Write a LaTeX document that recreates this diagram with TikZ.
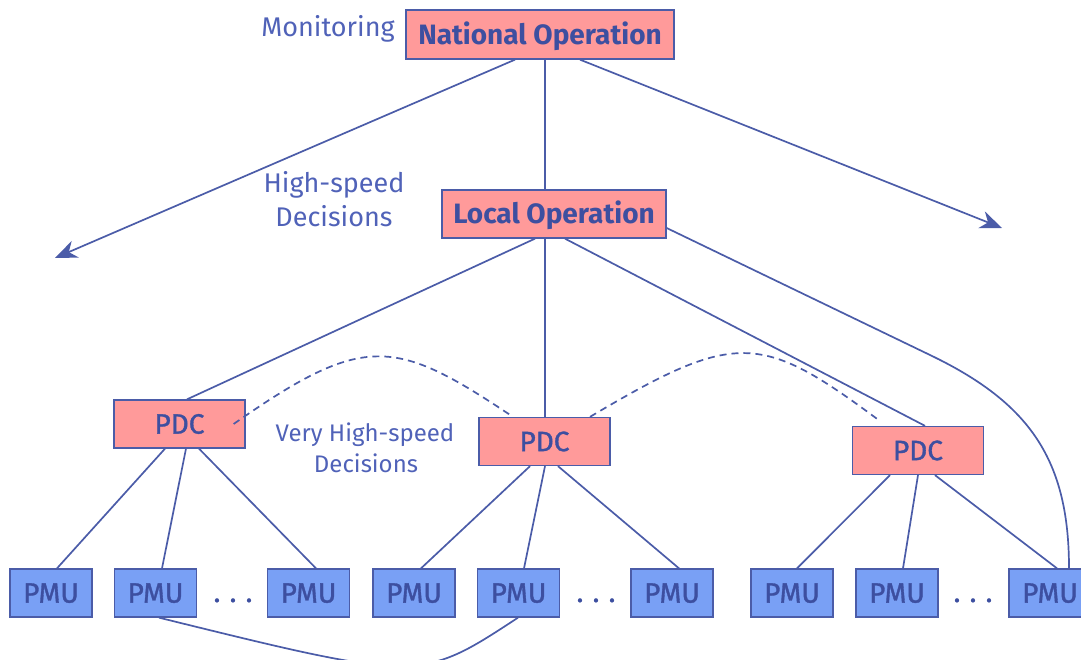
\documentclass[tikz,border=0pt]{standalone}
\usepackage{fontspec}
\setmainfont{Fira Sans}
\newfontfamily\boxfont{Fira Sans}[FakeBold=1.2]
\usetikzlibrary{arrows.meta}
\definecolor{linec}{HTML}{4B5CA8}
\definecolor{textc}{HTML}{3D4FA0}
\definecolor{labc}{HTML}{5062B8}
\definecolor{pdcfill}{HTML}{FF9A9A}
\definecolor{pmufill}{HTML}{79A0F5}
\begin{document}
\begin{tikzpicture}[x=1pt,y=-1pt,
  box/.style={draw=linec, line width=1.3pt, inner sep=0pt, text=textc,
    font=\boxfont\fontsize{28}{32}\selectfont, text height=19.3pt, text depth=0pt},
  bigbox/.style={box, fill=pdcfill, font=\fontsize{28}{32}\selectfont\bfseries},
  pdcbox/.style={box, fill=pdcfill, minimum width=131pt, minimum height=48pt},
  pmubox/.style={box, fill=pmufill, minimum width=82pt, minimum height=48pt},
  conn/.style={draw=linec, line width=1.7pt},
  dashconn/.style={conn, dash pattern=on 7pt off 5pt},
  arr/.style={conn, -{Stealth[length=22pt,width=18pt,inset=7pt]}},
  lab/.style={text=labc, font=\fontsize{27}{32}\selectfont, inner sep=0pt, anchor=base},
  smalllab/.style={lab, font=\fontsize{24}{28}\selectfont},
  dotsnode/.style={text=textc, font=\boxfont\fontsize{28}{32}\selectfont, inner sep=0pt, anchor=base}
]
\useasboundingbox (0,0) rectangle (1081,660);

% boxes
\node[bigbox, minimum width=268pt, minimum height=49pt] (nat) at (540,34.5) {National Operation};
\node[bigbox, minimum width=224pt, minimum height=48pt] (loc) at (554,214) {Local Operation};
\node[pdcbox] (pdc1) at (179.5,424) {PDC};
\node[pdcbox] (pdc2) at (544.5,441.5) {PDC};
\node[pdcbox] (pdc3) at (918,450.5) {PDC};
\node[pmubox] (pmu1) at (51,593) {PMU};
\node[pmubox] (pmu2) at (155.5,593) {PMU};
\node[pmubox] (pmu3) at (308.5,593) {PMU};
\node[pmubox] (pmu4) at (414,593) {PMU};
\node[pmubox] (pmu5) at (518.5,593) {PMU};
\node[pmubox] (pmu6) at (672,593) {PMU};
\node[pmubox] (pmu7) at (792,593) {PMU};
\node[pmubox] (pmu8) at (897,593) {PMU};
\node[pmubox] (pmu9) at (1050,593) {PMU};

% labels
\node[lab] (mon) at (328,37) {Monitoring};
\node[lab] (hs1) at (334,193) {High-speed};
\node[lab] (hs2) at (334,227) {Decisions};
\node[smalllab] (vhs1) at (365,441) {Very High-speed};
\node[smalllab] (vhs2) at (366,472) {Decisions};

% dots
\node[dotsnode] (dots1) at (233,602) {.\hspace{9.3pt}.\hspace{9.3pt}.};
\node[dotsnode] (dots2) at (596,602) {.\hspace{9.3pt}.\hspace{9.3pt}.};
\node[dotsnode] (dots3) at (973,602) {.\hspace{9.3pt}.\hspace{9.3pt}.};

% free arrow ends
\coordinate (tipL) at (55,258);
\coordinate (tipR) at (1002,228);

% national operation
\draw[arr] ([xshift=-25pt]nat.south) -- (tipL);
\draw[conn] ([xshift=5pt]nat.south) -- ([xshift=-9pt]loc.north);
\draw[arr] ([xshift=40pt]nat.south) -- (tipR);

% local operation
\draw[conn] ([xshift=-19pt]loc.south) -- ([xshift=7.5pt]pdc1.north);
\draw[conn] ([xshift=-9pt]loc.south) -- ([xshift=0.5pt]pdc2.north);
\draw[conn] ([xshift=11pt]loc.south) -- ([xshift=7pt]pdc3.north);
\draw[conn] ([yshift=-14pt]loc.east) -- (930,355)
  .. controls (1030,403) and (1069,460) .. ([xshift=19pt]pmu9.north);

% dashed PDC links
\draw[dashconn] ([xshift=-12pt]pdc1.east) .. controls (365,332) and (395,338) .. ([xshift=-31.5pt]pdc2.north);
\draw[dashconn] ([xshift=45.5pt]pdc2.north) .. controls (735,331) and (760,332) .. ([xshift=-41pt,yshift=7pt]pdc3.north);

% PDC -> PMU
\draw[conn] ([xshift=-14.5pt]pdc1.south) -- ([xshift=6pt]pmu1.north);
\draw[conn] ([xshift=6.5pt]pdc1.south) -- ([xshift=6.5pt]pmu2.north);
\draw[conn] ([xshift=19.5pt]pdc1.south) -- ([xshift=7.5pt]pmu3.north);
\draw[conn] ([xshift=-14.5pt]pdc2.south) -- ([xshift=7pt]pmu4.north);
\draw[conn] ([xshift=0.5pt]pdc2.south) -- ([xshift=5.5pt]pmu5.north);
\draw[conn] ([xshift=13.5pt]pdc2.south) -- ([xshift=7pt]pmu6.north);
\draw[conn] ([xshift=-28pt]pdc3.south) -- ([xshift=5pt]pmu7.north);
\draw[conn] ([xshift=0pt]pdc3.south) -- ([xshift=6pt]pmu8.north);
\draw[conn] ([xshift=17pt]pdc3.south) -- ([xshift=7pt]pmu9.north);

% PMU link
\draw[conn] ([xshift=3.5pt]pmu2.south) .. controls (420,682) and (420,682) .. ([xshift=-0.5pt]pmu5.south);
\end{tikzpicture}
\end{document}
